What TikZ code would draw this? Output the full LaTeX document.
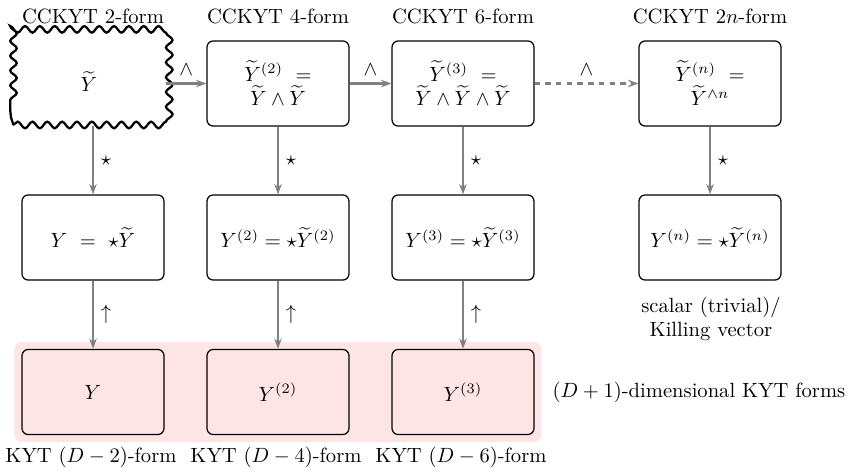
\documentclass[tikz,border=0pt]{standalone}
\usetikzlibrary{arrows.meta,decorations.pathmorphing,backgrounds,fit}
\definecolor{pinkfill}{RGB}{253,229,230}
\definecolor{linkgray}{RGB}{128,128,128}
\begin{document}
\begin{tikzpicture}[x=0.4854pt,y=-0.4854pt,
  formbox/.style={draw, rounded corners=3pt, line width=0.6pt,
    minimum width=68.9pt, minimum height=41.3pt, inner sep=2pt, align=center},
  kytbox/.style={formbox, fill=pinkfill},
  wavybox/.style={draw, line width=1.1pt, minimum width=73.8pt, minimum height=42.2pt,
    decorate, decoration={snake, segment length=7.2pt, amplitude=1.6pt}},
  link/.style={draw=linkgray, line width=1pt, -{Stealth[length=5pt,width=3.6pt]}},
  lbl/.style={inner sep=2pt, align=center}
]
\useasboundingbox (0,0) rectangle (853,471);

% column headings
\node[lbl] (h1) at (93,16)  {CCKYT 2-form};
\node[lbl] (h2) at (278,16) {CCKYT 4-form};
\node[lbl] (h3) at (463,16) {CCKYT 6-form};
\node[lbl] (h4) at (710,16) {CCKYT $2n$-form};

% conformal Killing--Yano forms
\node[wavybox] (t1) at (89,81.5) {$\widetilde{Y}$};
\node[formbox] (t2) at (278,83.5) {$\widetilde{Y}^{(2)}\ =$\\ $\widetilde{Y}\wedge\widetilde{Y}$};
\node[formbox] (t3) at (463,83.5) {$\widetilde{Y}^{(3)}\ =$\\ $\widetilde{Y}\wedge\widetilde{Y}\wedge\widetilde{Y}$};
\node[formbox] (t4) at (710,83.5) {$\widetilde{Y}^{(n)}\ =$\\ $\widetilde{Y}^{\wedge n}$};

% Hodge duals
\node[formbox] (m1) at (93,237.5)  {$Y\ =\ \star\widetilde{Y}$};
\node[formbox] (m2) at (278,237.5) {$Y^{(2)}=\star\widetilde{Y}^{(2)}$};
\node[formbox] (m3) at (463,237.5) {$Y^{(3)}=\star\widetilde{Y}^{(3)}$};
\node[formbox] (m4) at (710,237.5) {$Y^{(n)}=\star\widetilde{Y}^{(n)}$};

% lifted Killing--Yano forms
\node[kytbox] (b1) at (93,392)  {$Y$};
\node[kytbox] (b2) at (278,392) {$Y^{(2)}$};
\node[kytbox] (b3) at (463,392) {$Y^{(3)}$};

\begin{scope}[on background layer]
  \node[fit=(b1)(b3), inner sep=3.4pt, fill=pinkfill, rounded corners=4pt] (bg) {};
\end{scope}

% side and bottom labels
\node[lbl] (sv) at (711,319) {scalar (trivial)/\\ Killing vector};
\node[lbl] (dl) at (699,392) {$(D+1)$-dimensional KYT forms};
\node[lbl] (k1) at (91,457)  {KYT $(D-2)$-form};
\node[lbl] (k2) at (276,457) {KYT $(D-4)$-form};
\node[lbl] (k3) at (461,457) {KYT $(D-6)$-form};

% wedge products
\draw[link] (t1.east |- t2.west) -- node[above] {$\wedge$} (t2.west);
\draw[link] (t2) -- node[above] {$\wedge$} (t3);
\draw[link, dash pattern=on 2.6pt off 2.6pt] (t3) -- node[above] {$\wedge$} (t4);

% Hodge star
\draw[link] (m1.north |- t1.south) -- node[right] {$\star$} (m1.north);
\draw[link] (t2) -- node[right] {$\star$} (m2);
\draw[link] (t3) -- node[right] {$\star$} (m3);
\draw[link] (t4) -- node[right] {$\star$} (m4);

% lifts
\draw[link] (m1) -- node[right] {$\uparrow$} (b1);
\draw[link] (m2) -- node[right] {$\uparrow$} (b2);
\draw[link] (m3) -- node[right] {$\uparrow$} (b3);
\end{tikzpicture}
\end{document}
